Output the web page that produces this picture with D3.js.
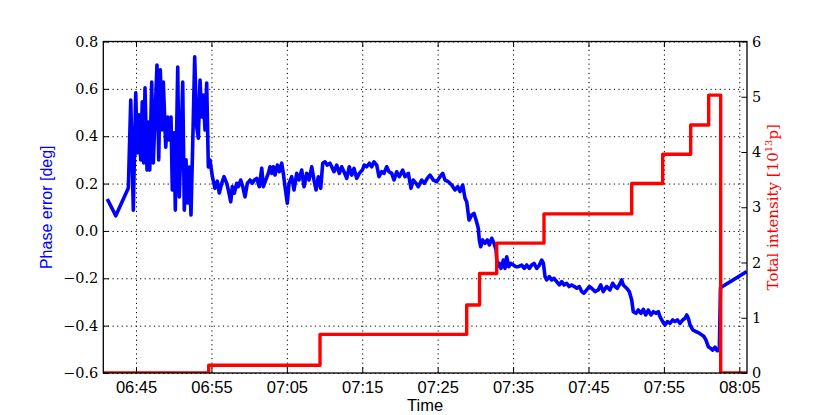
<!DOCTYPE html>
<html>
<head>
  <meta charset="utf-8">
  <title>Phase error and total intensity</title>
  <script src="https://d3js.org/d3.v7.min.js"></script>
  <style>
    body { margin: 0; background: #fff; }
  </style>
</head>
<body>
  <script>
    // x values are minutes after 06:40
    var blueMinutes = [
      1.19, 2.31, 3.98, 4.30, 4.64, 4.96, 5.17, 5.40, 5.62, 5.83,
      6.02, 6.19, 6.46, 6.63, 6.82, 7.08, 7.29, 7.52, 7.78, 8.01,
      8.22, 8.45, 8.62, 8.94, 9.20, 9.41, 9.64, 9.81, 10.04, 10.21,
      10.53, 10.74, 10.97, 11.19, 11.40, 11.63, 11.85, 12.07, 12.29, 12.56,
      12.78, 13.05, 13.26, 13.49, 13.71, 13.92, 14.15, 14.37, 14.59, 14.81,
      15.12, 15.47, 15.78, 16.04,
      16.36, 16.67, 17.03, 17.24, 17.56, 17.77, 18.03, 18.35, 18.56, 18.88,
      19.15, 19.45, 19.76, 20.12, 20.42, 20.69, 21.00, 21.35, 21.67, 21.88,
      22.20, 22.54, 22.77, 22.99, 23.21, 23.43, 23.74, 24.00, 24.32, 24.53,
      24.76, 25.06, 25.29, 25.64, 25.95, 26.31, 26.61, 26.97, 27.28, 27.63,
      27.94, 28.30, 28.60, 28.87, 29.17, 29.49, 29.76, 30.06, 30.37, 30.72,
      30.95, 31.25, 31.61, 31.96, 32.27, 32.58, 32.94, 33.28, 33.60, 33.91,
      34.26, 34.61, 35.01, 35.27, 35.59, 35.94, 36.25, 36.56, 36.92, 37.22,
      37.58, 37.88, 38.24, 38.55, 38.91, 39.21, 39.57, 39.91, 40.36, 40.67,
      41.11, 41.46, 41.77, 42.13, 42.43, 42.88, 43.23, 43.62, 43.98, 44.42,
      44.87, 45.31, 45.67, 45.97, 46.41, 46.86, 47.30, 47.66, 47.96, 48.32,
      48.63, 48.85, 49.16, 49.51, 49.82, 50.09, 50.39, 50.52, 50.71, 50.97,
      51.28, 51.58, 51.85, 52.17, 52.47, 52.74, 52.91, 53.17, 53.40, 53.71,
      53.93, 54.16, 54.42, 54.69, 55.04, 55.39, 55.70, 56.15, 56.49, 56.81,
      57.16, 57.47, 57.78, 58.14, 58.49, 58.80, 59.02, 59.24, 59.46, 59.81,
      60.12, 60.43, 60.78, 61.13, 61.45, 61.76, 62.11, 62.42, 62.77, 63.12,
      63.44, 63.78, 64.10, 64.40, 64.76, 65.11, 65.42, 65.86, 66.30, 66.62,
      66.96, 67.41, 67.85, 68.21, 68.51, 68.82, 69.08, 69.40, 69.61, 70.06,
      70.41, 70.73, 70.94, 71.30, 71.60, 71.96, 72.27, 72.59, 72.93, 73.29,
      73.60, 73.95, 74.26, 74.48, 74.84, 75.15, 75.46, 75.81, 76.17, 76.47,
      76.78, 77.14, 77.50, 77.80, 78.03, 78.24, 78.47, 78.83, 79.26, 79.70,
      80.02, 80.32, 80.58, 80.89, 81.21, 81.47, 81.78, 82.08, 82.35, 82.50,
      85.98
    ];
    var phaseError = [
      0.135, 0.064, 0.181, 0.553, 0.088, 0.583, 0.329, 0.490, 0.300, 0.545,
      0.287, 0.604, 0.257, 0.460, 0.257, 0.629, 0.287, 0.481, 0.701, 0.300,
      0.680, 0.426, 0.629, 0.354, 0.481, 0.384, 0.481, 0.173, 0.414, 0.088,
      0.692, 0.143, 0.384, 0.629, 0.088, 0.300, 0.118, 0.270, 0.067, 0.426,
      0.735, 0.439, 0.392, 0.637, 0.481, 0.574, 0.426, 0.625, 0.270, 0.300,
      0.230, 0.180, 0.210, 0.160,
      0.201, 0.229, 0.201, 0.173, 0.123, 0.187, 0.159, 0.201, 0.187, 0.215,
      0.187, 0.144, 0.201, 0.215, 0.201, 0.215, 0.222, 0.187, 0.265, 0.187,
      0.215, 0.243, 0.271, 0.243, 0.271, 0.236, 0.278, 0.250, 0.286, 0.243,
      0.187, 0.117, 0.201, 0.229, 0.173, 0.243, 0.215, 0.257, 0.187, 0.243,
      0.215, 0.271, 0.215, 0.173, 0.229, 0.180, 0.286, 0.292, 0.278, 0.286,
      0.271, 0.250, 0.278, 0.243, 0.271, 0.250, 0.222, 0.271, 0.236, 0.264,
      0.222, 0.243, 0.257, 0.278, 0.271, 0.286, 0.271, 0.292, 0.278, 0.229,
      0.250, 0.243, 0.271, 0.250, 0.243, 0.215, 0.250, 0.229, 0.257, 0.229,
      0.243, 0.180, 0.215, 0.201, 0.187, 0.215, 0.201, 0.222, 0.236, 0.215,
      0.208, 0.229, 0.243, 0.215, 0.208, 0.194, 0.173, 0.187, 0.166, 0.194,
      0.138, 0.123, 0.046, 0.067, 0.074, 0.046, 0.011, -0.038, -0.067, -0.038,
      -0.052, -0.038, -0.059, -0.031, -0.052, -0.080, -0.151, -0.137, -0.158, -0.123,
      -0.158, -0.109, -0.151, -0.137, -0.144, -0.151, -0.151, -0.144, -0.158, -0.144,
      -0.158, -0.144, -0.137, -0.158, -0.144, -0.123, -0.137, -0.193, -0.207, -0.193,
      -0.207, -0.200, -0.214, -0.228, -0.214, -0.228, -0.221, -0.235, -0.228, -0.235,
      -0.242, -0.235, -0.256, -0.263, -0.249, -0.235, -0.242, -0.256, -0.249, -0.228,
      -0.256, -0.235, -0.249, -0.221, -0.235, -0.242, -0.228, -0.207, -0.228, -0.242,
      -0.256, -0.292, -0.341, -0.348, -0.334, -0.348, -0.331, -0.355, -0.334, -0.355,
      -0.341, -0.348, -0.341, -0.362, -0.383, -0.397, -0.383, -0.390, -0.376, -0.383,
      -0.376, -0.390, -0.376, -0.369, -0.355, -0.369, -0.397, -0.418, -0.425, -0.432,
      -0.439, -0.446, -0.461, -0.489, -0.496, -0.503, -0.491, -0.506, -0.503, -0.240,
      -0.172
    ];
    // intensity steps: level holds from each time until the next one
    var stepMinutes = [0.66, 14.64, 29.40, 48.85, 50.55, 52.83, 59.10, 70.73, 74.84, 78.55, 80.94, 82.53, 86.02];
    var intensity = [0, 0.14, 0.70, 1.23, 1.80, 2.35, 2.88, 3.43, 3.96, 4.49, 5.03, 0, 0];

    var timeTicks = ['06:45', '06:55', '07:05', '07:15', '07:25', '07:35', '07:45', '07:55', '08:05'];
    var phaseTicks = [0.8, 0.6, 0.4, 0.2, 0.0, -0.2, -0.4, -0.6];
    var intensityTicks = [0, 1, 2, 3, 4, 5, 6];

    var totalWidth = 830, totalHeight = 415;
    var margin = { top: 41.5, right: 83, bottom: 42, left: 103.3 };
    var graphWidth = totalWidth - margin.left - margin.right;
    var graphHeight = totalHeight - margin.top - margin.bottom;
    var tickLen = 5.6;

    var parseTick = d3.timeParse('%H:%M');
    var t0 = parseTick('06:40');
    function toTime(m) {
      return new Date(t0.getTime() + m * 60000);
    }

    var svg = d3.select('body')
      .append('svg')
      .attr('width', totalWidth)
      .attr('height', totalHeight);

    svg.append('defs').append('clipPath')
      .attr('id', 'plotClip')
      .append('rect')
      .attr('width', graphWidth)
      .attr('height', graphHeight);

    var g = svg.append('g')
      .attr('transform', 'translate(' + margin.left + ',' + margin.top + ')');

    var x = d3.scaleTime()
      .domain(d3.extent(stepMinutes).map(toTime))
      .range([0, graphWidth]);
    var y = d3.scaleLinear()
      .domain([-0.6, 0.8])
      .range([graphHeight, 0]);
    var yRight = d3.scaleLinear()
      .domain([0, 6])
      .range([graphHeight, 0]);

    var tickDates = timeTicks.map(parseTick);

    // dotted grid
    g.append('g')
      .attr('class', 'grid')
      .attr('transform', 'translate(0,' + graphHeight + ')')
      .call(d3.axisBottom(x).tickValues(tickDates).tickSize(-graphHeight).tickFormat(''));
    g.append('g')
      .attr('class', 'grid')
      .call(d3.axisLeft(y).tickValues(phaseTicks).tickSize(-graphWidth).tickFormat(''));
    g.selectAll('.grid .domain').remove();
    g.selectAll('.grid line')
      .attr('stroke', '#000')
      .attr('stroke-width', 1)
      .attr('stroke-dasharray', '1.2,3.4');

    // lines
    var phasePoints = blueMinutes.map(function(m, i) { return [toTime(m), phaseError[i]]; });
    var stepPoints = stepMinutes.map(function(m, i) { return [toTime(m), intensity[i]]; });

    var plot = g.append('g').attr('clip-path', 'url(#plotClip)');
    plot.append('path')
      .datum(phasePoints)
      .attr('fill', 'none')
      .attr('stroke', '#0000ff')
      .attr('stroke-width', 3.6)
      .attr('stroke-linejoin', 'round')
      .attr('d', d3.line()
        .x(function(d) { return x(d[0]); })
        .y(function(d) { return y(d[1]); }));
    plot.append('path')
      .datum(stepPoints)
      .attr('fill', 'none')
      .attr('stroke', '#ff0000')
      .attr('stroke-width', 3.4)
      .attr('stroke-linejoin', 'round')
      .attr('d', d3.line()
        .curve(d3.curveStepAfter)
        .x(function(d) { return x(d[0]); })
        .y(function(d) { return yRight(d[1]); }));

    // frame
    g.append('rect')
      .attr('width', graphWidth)
      .attr('height', graphHeight)
      .attr('fill', 'none')
      .attr('stroke', '#000')
      .attr('stroke-width', 1.3);

    // axes, ticks pointing inward
    var bottomAxis = g.append('g')
      .attr('transform', 'translate(0,' + graphHeight + ')')
      .call(d3.axisBottom(x).tickValues(tickDates).tickSize(-tickLen).tickPadding(8)
        .tickFormat(d3.timeFormat('%H:%M')));
    g.append('g')
      .call(d3.axisTop(x).tickValues(tickDates).tickSize(-tickLen).tickFormat(''));
    var leftAxis = g.append('g')
      .call(d3.axisLeft(y).tickValues(phaseTicks).tickSize(-tickLen).tickPadding(5)
        .tickFormat(d3.format('.1f')));
    var rightAxis = g.append('g')
      .attr('transform', 'translate(' + graphWidth + ',0)')
      .call(d3.axisRight(yRight).tickValues(intensityTicks).tickSize(-tickLen).tickPadding(5)
        .tickFormat(d3.format('d')));
    g.selectAll('.domain').remove();
    g.selectAll('.tick line').attr('stroke', '#000');

    bottomAxis.attr('font-family', '"Liberation Sans", Arial, sans-serif').attr('font-size', 16.5);
    bottomAxis.selectAll('text').attr('fill', '#000');
    leftAxis.attr('font-family', '"DejaVu Serif", serif').attr('font-size', 14.5);
    leftAxis.selectAll('text').attr('fill', '#000');
    rightAxis.attr('font-family', '"DejaVu Serif", serif').attr('font-size', 14.5);
    rightAxis.selectAll('text').attr('fill', '#000');

    // axis titles
    svg.append('text')
      .attr('x', margin.left + graphWidth / 2)
      .attr('y', 411)
      .attr('text-anchor', 'middle')
      .attr('font-family', '"Liberation Sans", Arial, sans-serif')
      .attr('font-size', 16.5)
      .attr('fill', '#000')
      .text('Time');

    svg.append('text')
      .attr('transform', 'translate(52,' + (margin.top + graphHeight / 2) + ') rotate(-90)')
      .attr('text-anchor', 'middle')
      .attr('font-family', '"Liberation Sans", Arial, sans-serif')
      .attr('font-size', 16)
      .attr('fill', '#0000ff')
      .text('Phase error [deg]');

    var rightTitle = svg.append('text')
      .attr('transform', 'translate(778,' + (margin.top + graphHeight / 2) + ') rotate(-90)')
      .attr('text-anchor', 'middle')
      .attr('font-family', '"DejaVu Serif", serif')
      .attr('font-size', 15)
      .attr('fill', '#ff0000');
    rightTitle.append('tspan').text('Total intensity [10');
    rightTitle.append('tspan').attr('dy', -6).attr('font-size', 10).text('13');
    rightTitle.append('tspan').attr('dy', 6).text('p]');
  </script>
</body>
</html>
